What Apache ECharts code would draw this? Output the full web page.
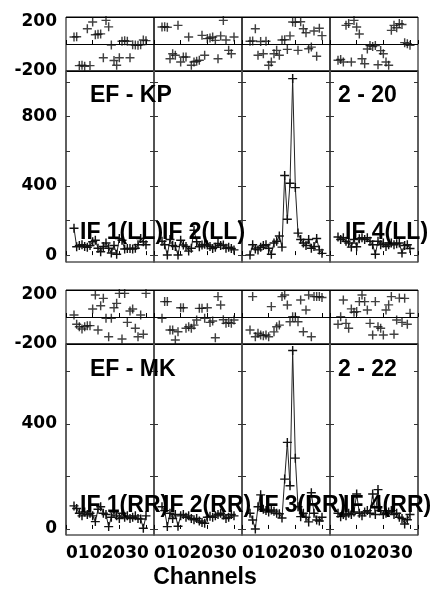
<!DOCTYPE html>
<html>
<head>
<meta charset="utf-8">
<script src="https://cdn.jsdelivr.net/npm/echarts@6/dist/echarts.min.js"></script>
<style>
html, body { margin: 0; padding: 0; background: #fff; }
#box { width: 435px; height: 590px; }
</style>
</head>
<body>
<div id="box"></div>
<script>
// channels plotted in every IF
const channels = [3, 4, 5, 6, 7, 8, 9, 10, 11, 12, 13, 14, 15, 16, 17, 18, 19, 20, 21, 22, 23, 24, 25, 26, 27, 28, 29, 30];

// phase (degrees), LL, one list per IF
const phaseLL1 = [52, 54, -160, -158, -165, 113, -160, 163, 69, 72, 75, -102, 175, 127, -7, -122, -158, -102, 20, 24, 20, -102, -5, -8, -10, -6, 30, 25];
const phaseLL2 = [126, 128, 124, -109, -72, -84, 138, -133, -96, -96, 52, -158, -133, -128, -120, 64, -84, 40, 44, 52, 27, -109, 60, 175, 30, -47, -72, 52];
const phaseLL3 = [20, 22, 113, -84, 18, -72, 20, -158, -133, -72, -47, -84, 30, 32, -40, 60, 163, 160, -47, 165, 113, 84, -35, -23, 96, -91, 117, 62];
const phaseLL4 = [-121, -115, -133, 138, 151, -133, 175, 126, 74, -109, -146, -37, -12, -18, -12, -153, -49, -72, -133, -158, 101, 138, 120, 151, 145, 10, 2, -10];

// amplitude, LL
const ampLL1 = [155, 48, 55, 60, 50, 45, 55, 77, 86, 40, 19, 50, 70, 40, 12, 55, 5, 96, 86, 35, 38, 38, 35, 40, 60, 96, 77, 60];
const ampLL2 = [80, 60, 0, 90, 55, 50, 0, 86, 58, 50, 23, 40, 144, 77, 48, 58, 62, 58, 50, 38, 45, 67, 55, 58, 40, 45, 38, 30];
const ampLL3 = [0, 60, 35, 30, 45, 55, 60, 40, 5, 70, 80, 110, 46, 460, 207, 415, 1020, 390, 127, 90, 70, 55, 90, 40, 50, 96, 30, 10];
const ampLL4 = [105, 90, 100, 80, 70, 46, 90, 48, 95, 100, 90, 100, 80, 60, 5, 80, 60, 70, 50, 60, 70, 60, 65, 70, 12, 55, 60, 38];

// phase, RR
const phaseRR1 = [15, -54, -72, -89, -72, -64, -64, 59, 163, -96, 84, 138, -10, -146, -10, 69, 101, 175, -163, 175, -40, 44, 59, -84, -146, 15, -128, 175];
const phaseRR2 = [-10, 114, 114, -96, -96, -170, -109, 69, 69, -84, -72, -84, -60, -22, 64, 64, -10, 69, -40, -30, -153, 151, 89, -20, -47, -40, -47, -22];
const phaseRR3 = [-96, 151, -146, -121, -133, -138, -133, -146, 77, -110, -72, -60, 151, 163, 89, -35, 2, 2, -35, 126, -109, 52, 163, -146, 151, 151, 151, 145];
const phaseRR4 = [-54, 2, 126, -47, -84, 60, 35, 40, 114, 163, 114, 52, -47, -133, 114, -72, -84, -133, 52, 90, 151, -128, -22, 140, -40, 138, -54, 27];

// amplitude, RR
const ampRR1 = [88, 78, 60, 50, 65, 55, 60, 50, 28, 75, 85, 60, 55, 9, 45, 65, 50, 40, 60, 45, 50, 40, 45, 50, 40, 38, 3, 50];
const ampRR2 = [85, 70, 9, 60, 40, 55, 10, 50, 55, 45, 50, 40, 35, 40, 30, 25, 22, 45, 48, 45, 50, 55, 60, 53, 40, 45, 55, 50];
const ampRR3 = [60, 34, 0, 85, 130, 75, 70, 65, 72, 68, 60, 58, 42, 190, 330, 165, 680, 270, 85, 47, 60, 45, 27, 138, 60, 34, 30, 45];
const ampRR4 = [60, 47, 55, 50, 60, 55, 65, 133, 60, 50, 65, 70, 60, 133, 55, 150, 70, 55, 60, 65, 70, 55, 60, 45, 40, 19, 35, 55];

// axis ticks and labels
const phaseLabels = [-200, 200];
const ampTicksLL = [0, 200, 400, 600, 800, 1000];
const ampLabelsLL = [0, 400, 800];
const ampTicksRR = [0, 200, 400, 600];
const ampLabelsRR = [0, 400];
const chanTickLabels = ['0', '10', '20', '30'];

// texts
const baselines = ['EF - KP', 'EF - MK'];
const times = ['2 - 20', '2 - 22'];
const ifLabelsLL = ['IF 1(LL)', 'IF 2(LL)', '', 'IF 4(LL)'];
const ifLabelsRR = ['IF 1(RR)', 'IF 2(RR)', 'IF 3(RR)', 'IF 4(RR)'];

const colLeft = [66, 154, 242, 330];
const colW = 88;
const plus = 'path://M4.2,0H5.8V4.2H10V5.8H5.8V10H4.2V5.8H0V4.2H4.2Z';
const tickText = { color: '#000', fontFamily: 'DejaVu Sans', fontWeight: 'bold', fontSize: 17 };

const panels = [
    { phaseTop: 17, ampTop: 71, ampH: 191, ampMin: -40, ampMax: 1064,
      ticks: ampTicksLL, labels: ampLabelsLL,
      phase: [phaseLL1, phaseLL2, phaseLL3, phaseLL4],
      amp: [ampLL1, ampLL2, ampLL3, ampLL4],
      ifLabels: ifLabelsLL, ifX: [80, 162, 252, 345], ifY: 233, titleY: 96 },
    { phaseTop: 290, ampTop: 344, ampH: 191, ampMin: -23, ampMax: 705,
      ticks: ampTicksRR, labels: ampLabelsRR,
      phase: [phaseRR1, phaseRR2, phaseRR3, phaseRR4],
      amp: [ampRR1, ampRR2, ampRR3, ampRR4],
      ifLabels: ifLabelsRR, ifX: [80, 163, 258, 343], ifY: 506, titleY: 370 }
];

const grid = [], xAxis = [], yAxis = [], series = [], graphic = [];

function txt(text, x, y, size, family, align) {
    graphic.push({
        type: 'text', z: 50, x: x, y: y,
        style: { text: text, fill: '#000',
                 fontSize: size, fontFamily: family, fontWeight: 'bold',
                 textAlign: align || 'left', textVerticalAlign: 'middle',
                 align: align || 'left', verticalAlign: 'middle' }
    });
}

panels.forEach(function (p, pi) {
    const lastPanel = pi === panels.length - 1;
    for (let i = 0; i < 4; i++) {
        // phase box
        const gp = grid.length;
        grid.push({ left: colLeft[i], top: p.phaseTop, width: colW, height: 54,
                    show: true, borderColor: '#000', borderWidth: 1 });
        xAxis.push({ type: 'value', gridIndex: gp, min: 0, max: 33, interval: 10,
                     axisLine: { show: false },
                     axisTick: { inside: true, length: 4, lineStyle: { color: '#000' } },
                     axisLabel: { show: false }, splitLine: { show: false } });
        const yp = yAxis.length;
        yAxis.push({ type: 'value', gridIndex: gp, min: -200, max: 200, interval: 200,
                     axisLine: { show: false }, axisTick: { show: false },
                     splitLine: { show: true, lineStyle: { color: '#000', width: 1 } },
                     axisLabel: Object.assign({ show: i === 0, customValues: phaseLabels, margin: 9,
                         formatter: function (v) { return v > 0 ? '{t|' + v + '}' : '{b|' + v + '}'; },
                         rich: { t: Object.assign({ padding: [10, 0, 0, 0] }, tickText), b: tickText }
                     }, tickText) });
        series.push({ type: 'scatter', xAxisIndex: gp, yAxisIndex: yp,
                      symbol: plus, symbolSize: 9,
                      itemStyle: { color: '#111' },
                      data: channels.map(function (c, k) { return [c, p.phase[i][k]]; }) });

        // amplitude box; channel numbers are written under the last panel
        const ga = grid.length;
        grid.push({ left: colLeft[i], top: p.ampTop, width: colW, height: p.ampH,
                    show: true, borderColor: '#000', borderWidth: 1 });
        xAxis.push({ type: 'value', gridIndex: ga, min: 0, max: 33, interval: 10,
                     axisLine: { show: false },
                     axisTick: { inside: true, length: 4, lineStyle: { color: '#000' } },
                     axisLabel: Object.assign({ show: lastPanel, customValues: [0], margin: 10,
                         align: 'left', padding: [0, 0, 0, 0],
                         formatter: function () { return chanTickLabels.join(''); } }, tickText),
                     splitLine: { show: false } });
        const ya = yAxis.length;
        yAxis.push({ type: 'value', gridIndex: ga, min: p.ampMin, max: p.ampMax,
                     axisLine: { show: true, lineStyle: { color: '#555', width: 1.5 } },
                     axisTick: { inside: true, length: 4, customValues: p.ticks, lineStyle: { color: '#333' } },
                     splitLine: { show: false },
                     axisLabel: Object.assign({ show: i === 0, customValues: p.labels, margin: 9 }, tickText) });
        yAxis.push({ type: 'value', gridIndex: ga, min: p.ampMin, max: p.ampMax, position: 'right',
                     axisLine: { show: true, lineStyle: { color: '#555', width: 1.5 } },
                     axisTick: { inside: true, length: 4, customValues: p.ticks, lineStyle: { color: '#333' } },
                     splitLine: { show: false }, axisLabel: { show: false } });
        series.push({ type: 'line', xAxisIndex: ga, yAxisIndex: ya,
                      symbol: plus, symbolSize: 9, showAllSymbol: true,
                      lineStyle: { color: '#222', width: 1 },
                      itemStyle: { color: '#111' },
                      data: channels.map(function (c, k) { return [c, p.amp[i][k]]; }) });

        if (p.ifLabels[i]) txt(p.ifLabels[i], p.ifX[i], p.ifY, 23, 'Liberation Sans');
    }
    txt(baselines[pi], 90, p.titleY, 23, 'Liberation Sans');
    txt(times[pi], 338, p.titleY, 23, 'Liberation Sans');
});

txt('Channels', 205, 578, 23, 'Liberation Sans', 'center');

const chart = echarts.init(document.getElementById('box'));
chart.setOption({
    animation: false,
    backgroundColor: '#fff',
    grid: grid, xAxis: xAxis, yAxis: yAxis, series: series, graphic: graphic
});
</script>
</body>
</html>
